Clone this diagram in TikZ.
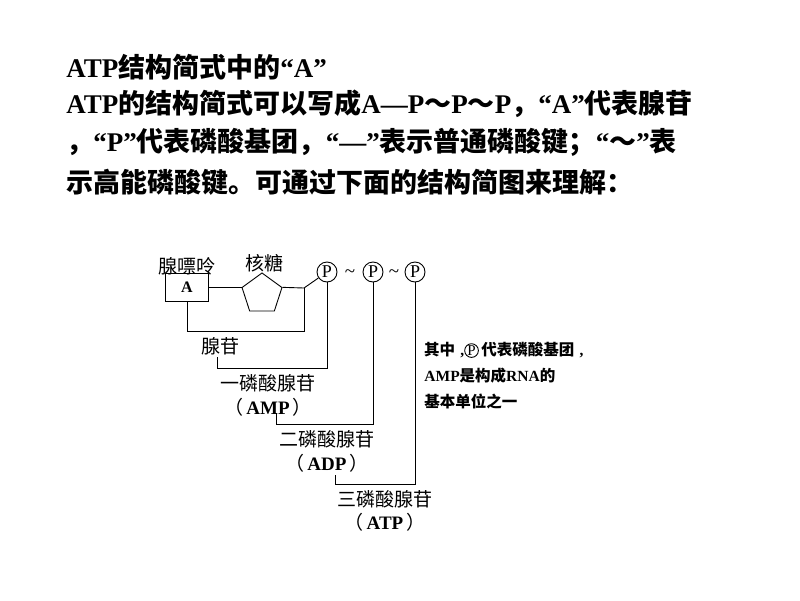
\documentclass[tikz,border=0pt]{standalone}
\usepackage{fontspec}
\setmainfont{Liberation Serif}
\newfontfamily\cjk{Noto Sans CJK SC}
\usetikzlibrary{positioning,shapes.geometric}
\newcommand{\zh}[1]{{\cjk #1}}
\newcommand{\pc}{\tikz[baseline=(c.base)]\node[circle,draw,line width=0.9pt,inner sep=0.3pt,font=\normalfont\fontsize{15}{15}\selectfont] (c) {P};}

\begin{document}
\begin{tikzpicture}[x=1pt,y=-1pt,line width=0.9pt,
    title/.style={anchor=west,inner sep=0,font=\bfseries\fontsize{27}{27}\selectfont},
    lbl/.style={inner sep=0,font=\fontsize{19}{19}\selectfont},
    note/.style={anchor=west,inner sep=0,font=\bfseries\fontsize{15.5}{15.5}\selectfont},
    phos/.style={circle,draw,inner sep=0,minimum size=20pt,font=\fontsize{18}{18}\selectfont}]
  \useasboundingbox (0,0) rectangle (800,600);

  % heading text
  \node[title] (t1) at (66,67) {ATP\zh{结构简式中的}“A”};
  \node[title] (t2) at (66,104) {ATP\zh{的结构简式可以写成}A—P\zh{～}P\zh{～}P\zh{，}“A”\zh{代表腺苷}};
  \node[title] (t3) at (66,142) {\zh{，}“P”\zh{代表磷酸基团，}“—”\zh{表示普通磷酸键；}“\zh{～}”\zh{表}};
  \node[title] (t4) at (66,182) {\zh{示高能磷酸键。可通过下面的结构简图来理解：}};

  % structure
  \node[draw,minimum width=43pt,minimum height=28pt,inner sep=0,font=\bfseries\fontsize{16}{16}\selectfont] (A) at (187,287) {A};
  \node[draw,regular polygon,regular polygon sides=5,minimum size=42pt,inner sep=0] (rib) at (262,294) {};
  \node[phos] (p1) at (327,272) {P};
  \node[phos] (p2) at (373,272) {P};
  \node[phos] (p3) at (415,272) {P};
  \node[lbl] at (350,274) {\textasciitilde};
  \node[lbl] at (394,274) {\textasciitilde};
  \coordinate (j) at (304,288);

  \node[lbl] (ade) at (187,266) {\zh{腺嘌呤}};
  \node[lbl] (sug) at (264,263) {\zh{核糖}};
  \node[lbl] (ads) at (220,346) {\zh{腺苷}};
  \node[lbl] (amp) at (268,383) {\zh{一磷酸腺苷}};
  \node[lbl] (ampb) at (268,407) {\zh{（}\,\textbf{AMP}\,\zh{）}};
  \node[lbl] (adp) at (327,439) {\zh{二磷酸腺苷}};
  \node[lbl] (adpb) at (327,463) {\zh{（}\,\textbf{ADP}\,\zh{）}};
  \node[lbl] (atp) at (385,499) {\zh{三磷酸腺苷}};
  \node[lbl] (atpb) at (385,522) {\zh{（}\,\textbf{ATP}\,\zh{）}};

  \draw (A.east) -- (rib.corner 2 |- A.east);
  \draw (rib.corner 5) -- (j) -- (p1);
  \draw (A.south) |- (304,331) -- (j);
  \draw (217,357) |- (327,368) -- (p1.south);
  \draw (276,413) |- (373,424) -- (p2.south);
  \draw (335,475) |- (415,484) -- (p3.south);

  % side note
  \node[note] (n1) at (424,350) {\zh{其中}\,\,,\pc\,\zh{代表磷酸基团}\,\,,};
  \node[note] (n2) at (424,376) {AMP\zh{是构成}RNA\zh{的}};
  \node[note] (n3) at (424,401) {\zh{基本单位之一}};
\end{tikzpicture}
\end{document}
